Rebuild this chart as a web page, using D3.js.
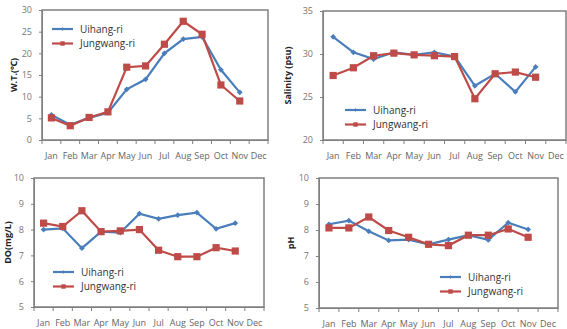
<!DOCTYPE html>
<html>
<head>
<meta charset="utf-8">
<script src="https://cdn.jsdelivr.net/npm/d3@7"></script>
<style>
  body { margin: 0; background: #fff; }
  svg { display: block; font-family: "Open Sans", "Noto Sans", sans-serif; }
</style>
</head>
<body>
<div id="chart"></div>
<script>
// data
const months = ["Jan", "Feb", "Mar", "Apr", "May", "Jun", "Jul", "Aug", "Sep", "Oct", "Nov", "Dec"];
const seriesNames = ["Uihang-ri", "Jungwang-ri"];

const wtUihang    = [5.8, 3.5, 5.1, 6.3, 11.7, 14.0, 20.0, 23.3, 23.8, 16.2, 11.0];
const wtJungwang  = [5.1, 3.3, 5.2, 6.5, 16.8, 17.1, 22.1, 27.4, 24.4, 12.7, 9.0];

const salUihang   = [32.0, 30.2, 29.4, 30.2, 29.9, 30.2, 29.7, 26.3, 27.7, 25.6, 28.5];
const salJungwang = [27.5, 28.4, 29.8, 30.1, 29.9, 29.8, 29.7, 24.8, 27.7, 27.9, 27.3];

const doUihang    = [8.0, 8.05, 7.28, 7.92, 7.88, 8.62, 8.42, 8.56, 8.66, 8.03, 8.25];
const doJungwang  = [8.25, 8.12, 8.73, 7.92, 7.95, 8.0, 7.2, 6.95, 6.95, 7.3, 7.17];

const phUihang    = [8.22, 8.36, 7.95, 7.6, 7.63, 7.45, 7.63, 7.8, 7.62, 8.28, 8.02];
const phJungwang  = [8.08, 8.08, 8.5, 7.98, 7.72, 7.45, 7.4, 7.8, 7.8, 8.04, 7.72];

const wtTicks  = [0, 5, 10, 15, 20, 25, 30];
const salTicks = [20, 25, 30, 35];
const doTicks  = [5, 6, 7, 8, 9, 10];
const phTicks  = [5, 6, 7, 8, 9, 10];

const colors = ["#4a7ebb", "#be4b48"];

const width = 567, height = 329;
const svg = d3.select("#chart").append("svg")
    .attr("width", width)
    .attr("height", height);

// panel layout
const panels = [
  { label: "W.T.(\u2103)", data: [wtUihang, wtJungwang], ticks: wtTicks,
    box: { left: 42, right: 268, top: 10, bottom: 140 }, labelX: 14,
    legend: { x: 52, y: 29 } },
  { label: "Salinity (psu)", data: [salUihang, salJungwang], ticks: salTicks,
    box: { left: 323, right: 566, top: 11, bottom: 140 }, labelX: 288,
    legend: { x: 345, y: 110 } },
  { label: "DO(mg/L)", data: [doUihang, doJungwang], ticks: doTicks,
    box: { left: 34, right: 264, top: 178, bottom: 307 }, labelX: 8,
    legend: { x: 53, y: 272 } },
  { label: "pH", data: [phUihang, phJungwang], ticks: phTicks,
    box: { left: 319, right: 558, top: 178, bottom: 308 }, labelX: 291,
    legend: { x: 440, y: 277 } }
];

function marker(g, i, cx, cy, s) {
  if (i === 0) {
    const r = s * 0.8;
    g.append("path")
      .attr("d", `M${cx},${cy - r}L${cx + r},${cy}L${cx},${cy + r}L${cx - r},${cy}Z`)
      .attr("fill", colors[0]);
  } else {
    g.append("rect")
      .attr("x", cx - s).attr("y", cy - s)
      .attr("width", 2 * s).attr("height", 2 * s)
      .attr("fill", colors[1]);
  }
}

panels.forEach(p => {
  const b = p.box;
  const g = svg.append("g");

  const x = d3.scaleBand().domain(months).range([b.left, b.right]);
  const y = d3.scaleLinear()
      .domain(d3.extent(p.ticks))
      .range([b.bottom, b.top]);

  // plot frame
  g.append("rect")
    .attr("x", b.left).attr("y", b.top)
    .attr("width", b.right - b.left).attr("height", b.bottom - b.top)
    .attr("fill", "none")
    .attr("stroke", "#7f7f7f")
    .attr("stroke-width", 1.5);

  // y axis
  const yAxis = g.append("g")
    .attr("transform", `translate(${b.left},0)`)
    .call(d3.axisLeft(y).tickValues(p.ticks).tickFormat(d3.format("d")).tickSize(3).tickPadding(7));
  yAxis.select(".domain").attr("stroke", "#7f7f7f");
  yAxis.selectAll(".tick line").attr("stroke", "#7f7f7f");
  yAxis.selectAll("text").attr("fill", "#777").style("font-size", "9px")
    .style("font-family", "'Open Sans', sans-serif");

  // x axis: ticks between categories
  const xAxis = g.append("g")
    .attr("transform", `translate(0,${b.bottom})`)
    .call(d3.axisBottom(x).tickSize(0).tickPadding(13));
  xAxis.select(".domain").attr("stroke", "#7f7f7f");
  xAxis.selectAll("text").attr("fill", "#666").style("font-size", "9px")
    .style("font-family", "'Open Sans', sans-serif");
  const bounds = months.map(m => x(m)).concat([b.right]);
  xAxis.selectAll(".bound").data(bounds).enter().append("line")
    .attr("x1", d => d).attr("x2", d => d)
    .attr("y1", 0).attr("y2", 4)
    .attr("stroke", "#7f7f7f");

  // y label
  g.append("text")
    .attr("transform", `translate(${p.labelX},${(b.top + b.bottom) / 2}) rotate(-90)`)
    .attr("text-anchor", "middle")
    .attr("dy", "0.35em")
    .style("font-size", "9px")
    .style("font-weight", "bold")
    .attr("fill", "#222")
    .text(p.label);

  // series
  const line = d3.line()
    .x((d, i) => x(months[i]) + x.bandwidth() / 2)
    .y(d => y(d));

  p.data.forEach((vals, si) => {
    const sg = g.append("g");
    sg.append("path")
      .datum(vals)
      .attr("fill", "none")
      .attr("stroke", colors[si])
      .attr("stroke-width", 2.2)
      .attr("d", line);
    vals.forEach((v, i) => marker(sg, si, x(months[i]) + x.bandwidth() / 2, y(v), 3.6));
  });

  // legend
  seriesNames.forEach((name, si) => {
    const ly = p.legend.y + si * 14.5;
    const lg = g.append("g");
    lg.append("line")
      .attr("x1", p.legend.x).attr("x2", p.legend.x + 21)
      .attr("y1", ly).attr("y2", ly)
      .attr("stroke", colors[si]).attr("stroke-width", 2.2);
    marker(lg, si, p.legend.x + 10.5, ly, 2.2);
    lg.append("text")
      .attr("x", p.legend.x + 28).attr("y", ly)
      .attr("dy", "0.35em")
      .style("font-size", "10px")
      .attr("fill", "#333")
      .text(name);
  });
});
</script>
</body>
</html>
